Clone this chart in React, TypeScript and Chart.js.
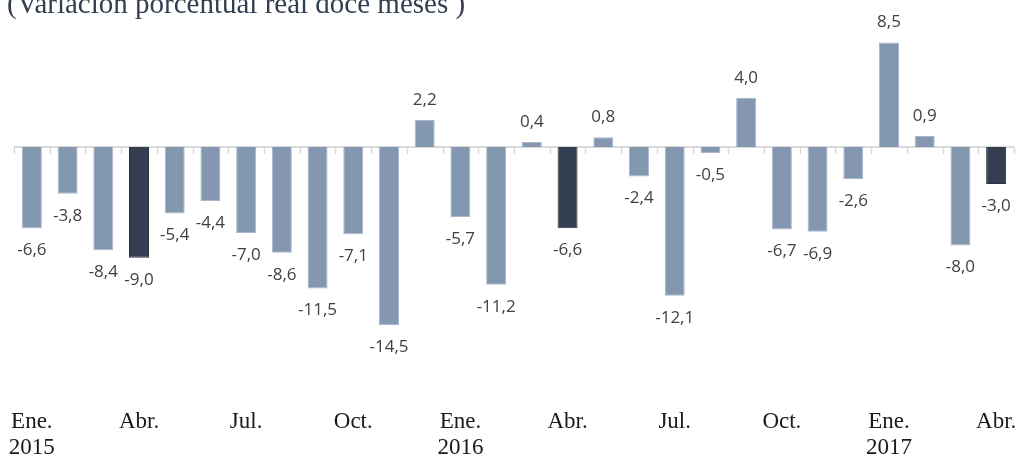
import React, { useEffect, useRef } from "react";
import { Chart, registerables } from "chart.js";

Chart.register(...registerables);

const titleText = "(Variación porcentual real doce meses )";

const categories = [
  "Ene. 2015", "Feb. 2015", "Mar. 2015", "Abr. 2015", "May. 2015", "Jun. 2015",
  "Jul. 2015", "Ago. 2015", "Sep. 2015", "Oct. 2015", "Nov. 2015", "Dic. 2015",
  "Ene. 2016", "Feb. 2016", "Mar. 2016", "Abr. 2016", "May. 2016", "Jun. 2016",
  "Jul. 2016", "Ago. 2016", "Sep. 2016", "Oct. 2016", "Nov. 2016", "Dic. 2016",
  "Ene. 2017", "Feb. 2017", "Mar. 2017", "Abr. 2017",
];

const values = [
  -6.6, -3.8, -8.4, -9.0, -5.4, -4.4, -7.0, -8.6, -11.5, -7.1, -14.5, 2.2,
  -5.7, -11.2, 0.4, -6.6, 0.8, -2.4, -12.1, -0.5, 4.0, -6.7, -6.9, -2.6,
  8.5, 0.9, -8.0, -3.0,
];

const highlightMonth = "Abr.";
const LIGHT = "#8497B0";
const DARK = "#333F50";

const zeroLinePlugin = {
  id: "zeroLine",
  beforeDatasetsDraw(chart: any) {
    const { ctx, chartArea, scales } = chart;
    const y0 = scales.y.getPixelForValue(0);
    const n = categories.length;
    const w = (chartArea.right - chartArea.left) / n;
    ctx.save();
    ctx.strokeStyle = "#D9D9D9";
    ctx.lineWidth = 2;
    ctx.beginPath();
    ctx.moveTo(chartArea.left, y0);
    ctx.lineTo(chartArea.right, y0);
    ctx.stroke();
    ctx.lineWidth = 1.5;
    for (let i = 0; i <= n; i++) {
      const x = Math.round(chartArea.left + i * w) + 0.5;
      ctx.beginPath();
      ctx.moveTo(x, y0);
      ctx.lineTo(x, y0 + 7);
      ctx.stroke();
    }
    ctx.restore();
  },
};

const labelPlugin = {
  id: "valueLabels",
  afterDatasetsDraw(chart: any) {
    const { ctx } = chart;
    const meta = chart.getDatasetMeta(0);
    ctx.save();
    ctx.font = "17px 'Open Sans'";
    ctx.fillStyle = "#404040";
    ctx.textAlign = "center";
    ctx.textBaseline = "middle";
    meta.data.forEach((bar: any, i: number) => {
      const v = values[i];
      const t = v.toFixed(1).replace(".", ",");
      const y = v >= 0 ? bar.y - 20 : bar.y + 22;
      ctx.fillText(t, bar.x, y);
    });
    ctx.restore();
  },
};

const titlePlugin = {
  id: "cutTitle",
  afterDraw(chart: any) {
    const { ctx } = chart;
    ctx.save();
    ctx.font = "29px 'Liberation Serif'";
    ctx.fillStyle = "#333F50";
    ctx.textAlign = "left";
    ctx.textBaseline = "alphabetic";
    ctx.fillText(titleText, 7, 13);
    ctx.restore();
  },
};

export default function App() {
  const ref = useRef<HTMLCanvasElement | null>(null);
  useEffect(() => {
    document.body.style.margin = "0";
    if (!ref.current) return;
    const chart = new Chart(ref.current, {
      type: "bar",
      data: {
        labels: categories,
        datasets: [
          {
            data: values,
            backgroundColor: categories.map((c) =>
              c.startsWith(highlightMonth) ? DARK : LIGHT
            ),
            borderColor: categories.map((c) =>
              c.startsWith(highlightMonth) ? "#2A3442" : "#A9B7CA"
            ),
            borderWidth: 1,
            barPercentage: 0.8,
            categoryPercentage: 0.7,
          },
        ],
      },
      options: {
        animation: false,
        responsive: false,
        maintainAspectRatio: false,
        layout: { padding: { top: 24, left: 14, right: 5, bottom: 0 } },
        plugins: {
          legend: { display: false },
          tooltip: { enabled: false },
          title: { display: false },
        },
        scales: {
          x: {
            grid: { display: false, drawTicks: false },
            border: { display: false },
            afterFit: (s: any) => {
              s.height = 65;
              s.paddingLeft = 0;
              s.paddingRight = 0;
            },
            ticks: {
              autoSkip: false,
              maxRotation: 0,
              minRotation: 0,
              padding: 15,
              color: "#1a1a1a",
              font: { family: "'Liberation Serif'", size: 23, lineHeight: 1.17 },
              callback: (_v: any, i: number) => {
                if (i % 3 !== 0) return "";
                const [m, y] = categories[i].split(" ");
                return m === "Ene." ? [m, y] : m;
              },
            },
          },
          y: {
            display: false,
            min: -20,
            max: 10,
          },
        },
      },
      plugins: [zeroLinePlugin, labelPlugin, titlePlugin],
    });
    return () => chart.destroy();
  }, []);
  return (
    <div style={{ width: 1019, height: 458, position: "relative" }}>
      <canvas ref={ref} width={1019} height={458} style={{ width: 1019, height: 458 }} />
    </div>
  );
}
